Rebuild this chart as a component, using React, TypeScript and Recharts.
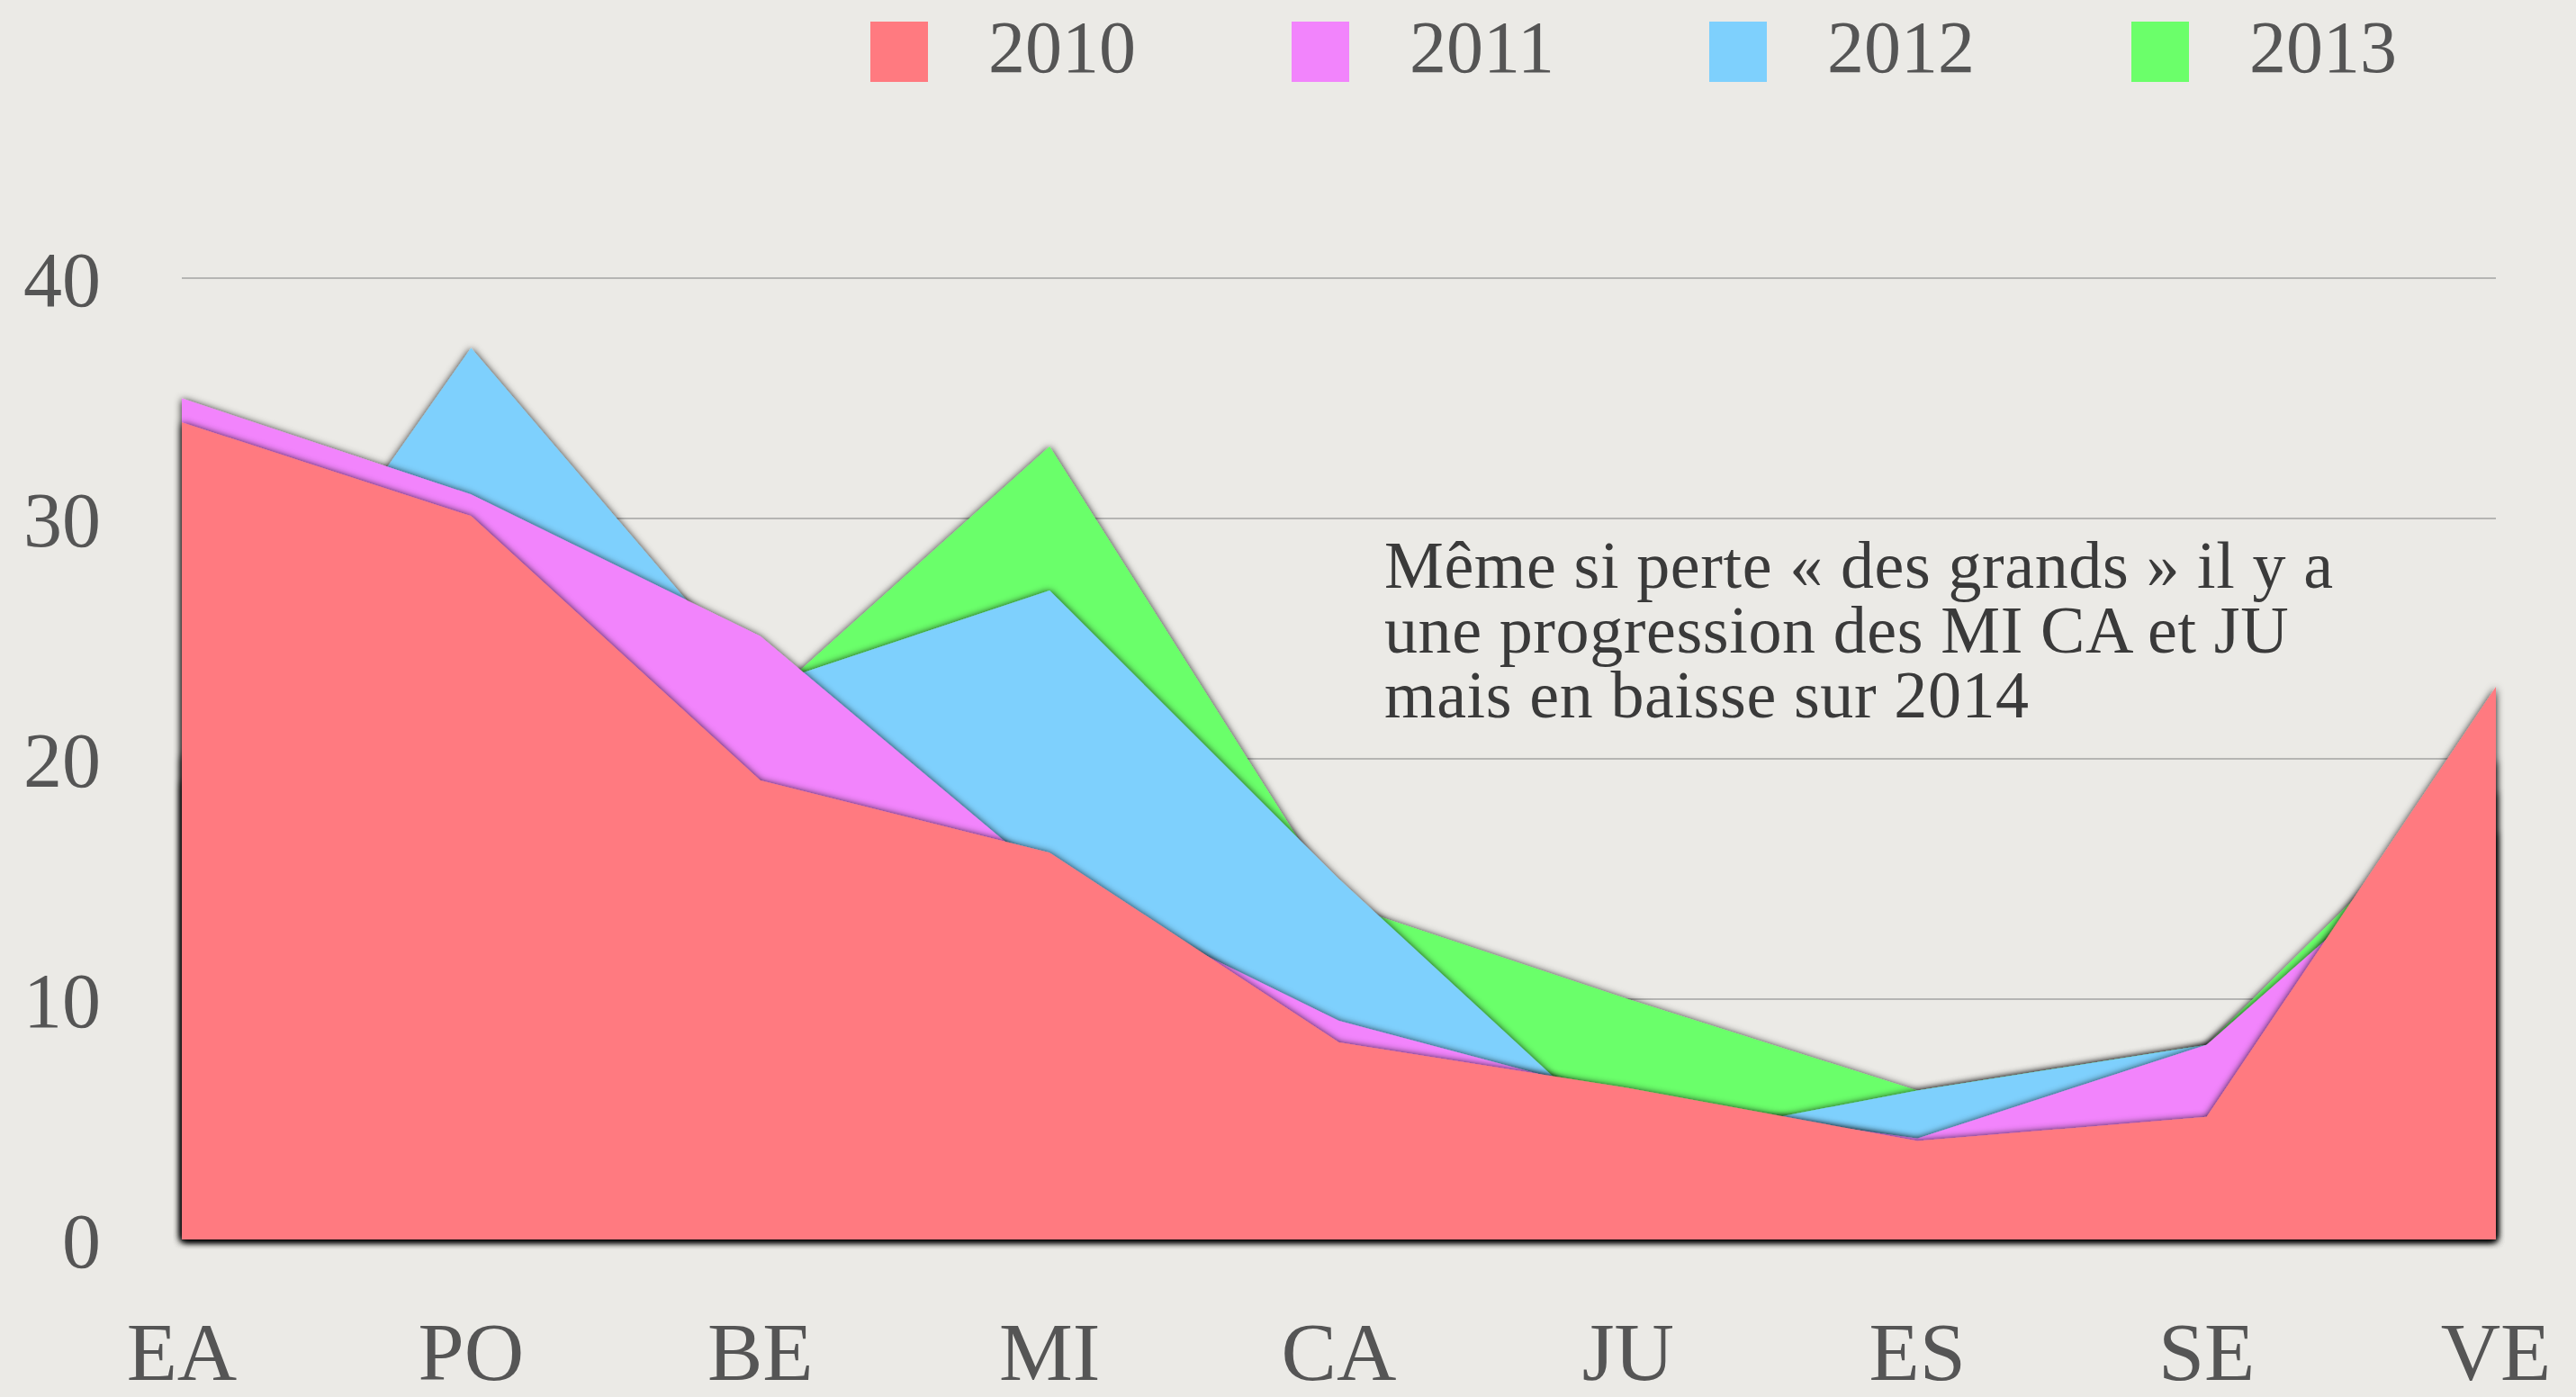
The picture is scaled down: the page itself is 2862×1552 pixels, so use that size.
import React from 'react';
import { AreaChart, Area, XAxis, YAxis, CartesianGrid, Legend } from 'recharts';

const categories = ['EA', 'PO', 'BE', 'MI', 'CA', 'JU', 'ES', 'SE', 'VE'];
const values2010 = [34.0, 30.1, 19.1, 16.1, 8.2, 6.3, 4.1, 5.1, 23.0];
const values2011 = [35.0, 31.0, 25.1, 15.0, 9.1, 5.9, 4.2, 8.1, 18.7];
const values2012 = [20.0, 37.1, 23.0, 27.0, 15.0, 3.9, 6.2, 8.1, 17.0];
const values2013 = [19.0, 28.0, 22.2, 33.0, 14.0, 10.0, 6.2, 8.1, 20.0];
const seriesNames = ['2010', '2011', '2012', '2013'];
const seriesColors = ['#ff7a80', '#f284fc', '#7ed0fd', '#6bff6a'];
const yTicks = [0, 10, 20, 30, 40];
const annotationLines = [
  'Même si perte « des grands » il y a',
  'une progression des MI CA et JU',
  'mais en baisse sur 2014',
];

const data = categories.map((c, i) => ({
  cat: c,
  s2010: values2010[i],
  s2011: values2011[i],
  s2012: values2012[i],
  s2013: values2013[i],
}));

const W = 2862;
const H = 1552;
const FONT = '"Liberation Serif", "Times New Roman", serif';

const legendX = [967, 1435, 1899, 2368];

const renderLegend = () => (
  <div style={{ position: 'relative', width: W, height: 110 }}>
    {seriesNames.map((n, i) => (
      <React.Fragment key={n}>
        <div
          style={{
            position: 'absolute',
            left: legendX[i],
            top: 24,
            width: 64,
            height: 67,
            background: seriesColors[i],
          }}
        />
        <div
          style={{
            position: 'absolute',
            left: legendX[i] + 131,
            top: 8,
            fontFamily: FONT,
            fontSize: 82,
            lineHeight: '90px',
            color: '#555',
          }}
        >
          {n}
        </div>
      </React.Fragment>
    ))}
  </div>
);

export default function App() {
  return (
    <div
      style={{
        position: 'absolute',
        left: 0,
        top: 0,
        width: W,
        height: H,
        background: '#ebeae6',
        overflow: 'hidden',
      }}
    >
      <style>{`.recharts-area-area { filter: url(#areaShadow); }`}</style>
      <svg width={0} height={0} style={{ position: 'absolute' }}>
        <defs>
          <filter id="areaShadow" x="-10%" y="-10%" width="120%" height="120%">
            <feDropShadow dx="0" dy="1" stdDeviation="4" floodColor="#000" floodOpacity="0.95" />
          </filter>
        </defs>
      </svg>
      <AreaChart
        width={W}
        height={H}
        data={data}
        margin={{ top: 309, right: 89, bottom: 0, left: 0 }}
      >
        <CartesianGrid vertical={false} stroke="#b5b5b3" strokeWidth={2} />
        <XAxis
          dataKey="cat"
          axisLine={false}
          tickLine={false}
          tickSize={0}
          tickMargin={91}
          height={175}
          interval={0}
          tick={{ fontFamily: FONT, fontSize: 92, fill: '#555' }}
        />
        <YAxis
          domain={[0, 40]}
          ticks={yTicks}
          axisLine={false}
          tickLine={false}
          tickSize={0}
          tickMargin={90}
          width={202}
          tick={{ fontFamily: FONT, fontSize: 86, fill: '#555' }}
        />
        <Legend
          layout="horizontal"
          verticalAlign="middle"
          align="center"
          content={renderLegend}
          wrapperStyle={{ position: 'absolute', left: 0, top: 0, width: W, height: 110 }}
        />
        <Area type="linear" dataKey="s2013" name="2013" stroke="none" fill={seriesColors[3]} fillOpacity={1} isAnimationActive={false} dot={false} activeDot={false} />
        <Area type="linear" dataKey="s2012" name="2012" stroke="none" fill={seriesColors[2]} fillOpacity={1} isAnimationActive={false} dot={false} activeDot={false} />
        <Area type="linear" dataKey="s2011" name="2011" stroke="none" fill={seriesColors[1]} fillOpacity={1} isAnimationActive={false} dot={false} activeDot={false} />
        <Area type="linear" dataKey="s2010" name="2010" stroke="none" fill={seriesColors[0]} fillOpacity={1} isAnimationActive={false} dot={false} activeDot={false} />
      </AreaChart>
      <div
        style={{
          position: 'absolute',
          left: 1538,
          top: 592,
          fontFamily: FONT,
          fontSize: 74,
          lineHeight: '72px',
          letterSpacing: '0.6px',
          color: '#3a3a3a',
          whiteSpace: 'nowrap',
          pointerEvents: 'none',
        }}
      >
        {annotationLines.map((t, i) => (
          <div key={i} style={{ height: 72 }}>{t}</div>
        ))}
      </div>
    </div>
  );
}
